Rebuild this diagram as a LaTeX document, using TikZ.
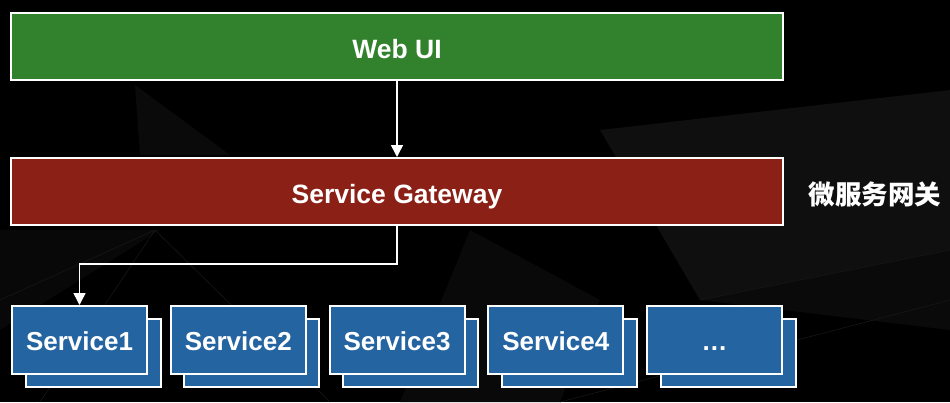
\documentclass[tikz,border=0pt]{standalone}
\usepackage{fontspec}
\setmainfont{Liberation Sans}
\newfontfamily\cjk{Noto Sans CJK SC}
\usetikzlibrary{arrows.meta}
\definecolor{webgreen}{RGB}{50,130,45}
\definecolor{gwred}{RGB}{138,32,22}
\definecolor{svcblue}{RGB}{36,100,160}
\tikzset{
  box/.style={draw=white, line width=2pt, minimum width=772pt, minimum height=67pt, inner sep=0pt,
    text height=23pt, text depth=0pt,
    text=white, font=\fontsize{26.5}{30}\selectfont\bfseries},
  svc/.style={draw=white, line width=2pt, fill=svcblue, minimum width=135pt, minimum height=68pt, inner sep=0pt,
    text height=21pt, text depth=0pt,
    text=white, font=\fontsize{26}{30}\selectfont\bfseries},
  conn/.style={draw=white, line width=1.5pt, -{Triangle[width=12pt,length=12pt]}},
  bgline/.style={draw=white!9!black, line width=0.6pt}
}
\begin{document}
\begin{tikzpicture}[x=1pt,y=-1pt]
  \useasboundingbox (0,0) rectangle (950,402);
  \fill[black] (0,0) rectangle (950,402);
  % faint background facets
  \fill[white!4!black] (140,155) -- (135,85) -- (230,155) -- cycle;
  \fill[white!3.5!black] (470,230) -- (600,300) -- (560,402) -- (400,402) -- cycle;
  \fill[white!6!black] (600,130) -- (950,90) -- (950,250) -- (700,300) -- cycle;
  \fill[white!4!black] (700,300) -- (950,250) -- (950,330) -- cycle;
  \fill[white!3!black] (0,230) -- (160,230) -- (0,330) -- cycle;
  \draw[bgline] (155,230) -- (40,402);
  \draw[bgline] (155,230) -- (330,402);
  \draw[bgline] (700,300) -- (950,250);
  \draw[bgline] (560,402) -- (950,300);
  \draw[bgline] (0,300) -- (155,230);

  \node[box, fill=webgreen] (web) at (397,46.5) {Web UI};
  \node[box, fill=gwred] (gw) at (397,191.5) {Service Gateway};
  \node[text=white, font=\cjk\fontsize{26.5}{30}\selectfont\bfseries, anchor=west] (label) at (805,194) {微服务网关};

  \foreach \i/\t in {1/Service1,2/Service2,3/Service3,4/Service4,5/\textbf{.\kern1pt.\kern1pt.}}{
    \pgfmathsetmacro{\cx}{79.5+158.75*(\i-1)}
    \node[svc] (b\i) at (\cx+13.5,353) {};
    \node[svc] (s\i) at (\cx,340) {\t};
  }

  \draw[conn] (web.south) -- (gw.north);
  \draw[conn] (gw.south) -- ++(0,38) -| (s1.north);
\end{tikzpicture}
\end{document}
